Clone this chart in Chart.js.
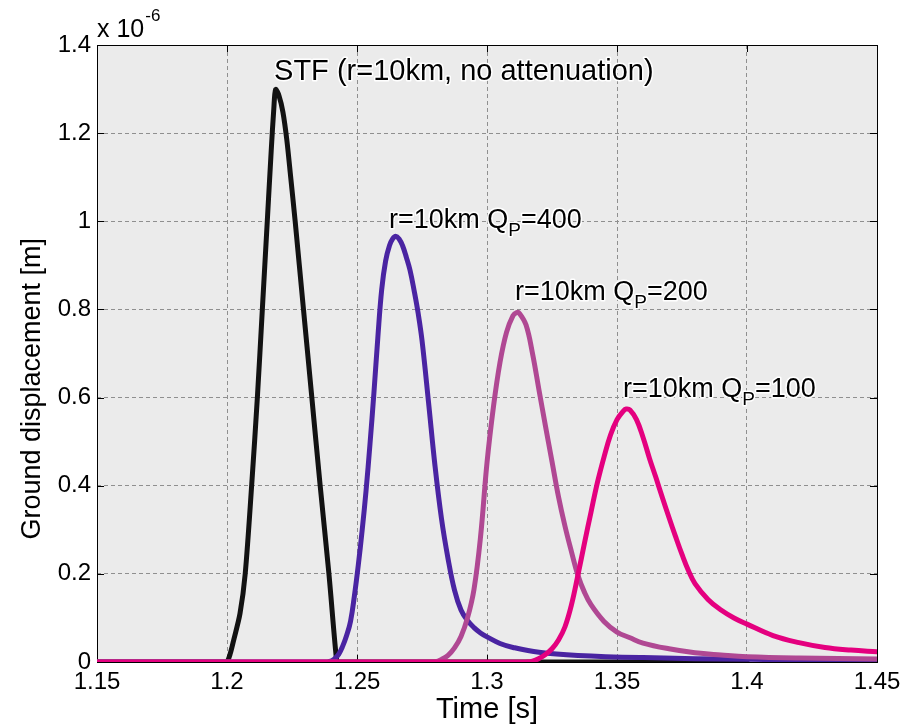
<!DOCTYPE html>
<html>
<head>
<meta charset="utf-8">
<script src="https://cdn.jsdelivr.net/npm/chart.js@4"></script>
<style>
html,body{margin:0;padding:0;background:#fff;}
canvas{display:block;}
</style>
</head>
<body>
<canvas id="chart" width="918" height="728"></canvas>
<script>
const FONT = "'Liberation Sans', Arial, Helvetica, sans-serif";

// axes
const X_TICKS = [1.15, 1.2, 1.25, 1.3, 1.35, 1.4, 1.45];
const X_TICK_LABELS = ['1.15', '1.2', '1.25', '1.3', '1.35', '1.4', '1.45'];
const Y_TICKS = [0, 0.2, 0.4, 0.6, 0.8, 1.0, 1.2, 1.4];
const Y_TICK_LABELS = ['0', '0.2', '0.4', '0.6', '0.8', '1', '1.2', '1.4'];

// source time function, no attenuation (x 1e-6 m)
const stfTime = [1.15, 1.199, 1.2, 1.2012, 1.2025, 1.205, 1.207, 1.2095, 1.2117, 1.2136, 1.2155, 1.217, 1.218, 1.2187,
  1.22, 1.2215, 1.223, 1.2245, 1.2262, 1.2294, 1.2326, 1.2358, 1.2392, 1.242, 1.2426, 1.2436, 1.40];
const stfDisp = [0, 0, 0, 0.018, 0.048, 0.11, 0.2, 0.402, 0.602, 0.801, 1.001, 1.16, 1.255, 1.299,
  1.285, 1.248, 1.185, 1.1, 1.001, 0.801, 0.602, 0.402, 0.2, 0.012, 0, 0, 0];

// Qp = 400
const q400Time = [1.15, 1.237, 1.238, 1.24, 1.2415, 1.243, 1.2445, 1.246, 1.2475, 1.249, 1.2505, 1.252, 1.2535,
  1.255, 1.2565, 1.258, 1.2595, 1.261, 1.2625, 1.2637, 1.2649, 1.2662, 1.2675, 1.269, 1.2704, 1.272,
  1.2735, 1.275, 1.2775, 1.28, 1.2825, 1.285, 1.2875, 1.29, 1.2925, 1.295, 1.2975, 1.3, 1.305,
  1.31, 1.32, 1.335, 1.36, 1.40, 1.45];
const q400Disp = [0, 0, 0, 0.002, 0.008, 0.018, 0.036, 0.06, 0.092, 0.15, 0.22, 0.3, 0.39,
  0.495, 0.61, 0.735, 0.845, 0.91, 0.945, 0.96, 0.966, 0.96, 0.945, 0.918, 0.889, 0.842,
  0.792, 0.73, 0.59, 0.445, 0.325, 0.235, 0.163, 0.118, 0.094, 0.078, 0.066, 0.057, 0.042,
  0.033, 0.022, 0.015, 0.01, 0.006, 0.004];

// Qp = 200
const q200Time = [1.15, 1.279, 1.28, 1.2825, 1.285, 1.2875, 1.29, 1.2925, 1.295, 1.2975, 1.3, 1.3025, 1.305,
  1.3075, 1.31, 1.3114, 1.3125, 1.315, 1.3175, 1.32, 1.3225, 1.325, 1.3275, 1.33, 1.3325, 1.335,
  1.3375, 1.34, 1.345, 1.35, 1.355, 1.36, 1.37, 1.38, 1.39, 1.40, 1.42, 1.45];
const q200Disp = [0, 0, 0, 0.006, 0.015, 0.032, 0.058, 0.1, 0.165, 0.283, 0.452, 0.58, 0.68,
  0.748, 0.786, 0.793, 0.791, 0.765, 0.7, 0.617, 0.535, 0.455, 0.375, 0.308, 0.25, 0.196,
  0.158, 0.13, 0.092, 0.068, 0.055, 0.043, 0.03, 0.021, 0.016, 0.012, 0.009, 0.007];

// Qp = 100
const q100Time = [1.15, 1.314, 1.315, 1.3175, 1.32, 1.3225, 1.325, 1.3275, 1.33, 1.3325, 1.335, 1.3375, 1.34,
  1.3425, 1.345, 1.3475, 1.35, 1.3525, 1.3535, 1.355, 1.3575, 1.36, 1.3625, 1.365, 1.3675, 1.37,
  1.3725, 1.375, 1.3775, 1.38, 1.385, 1.39, 1.395, 1.40, 1.41, 1.42, 1.43, 1.44, 1.45];
const q100Disp = [0, 0, 0, 0.002, 0.008, 0.017, 0.03, 0.05, 0.08, 0.13, 0.198, 0.27, 0.34,
  0.408, 0.465, 0.515, 0.55, 0.57, 0.574, 0.572, 0.55, 0.51, 0.462, 0.418, 0.372, 0.328,
  0.285, 0.244, 0.207, 0.178, 0.142, 0.118, 0.1, 0.086, 0.06, 0.044, 0.033, 0.027, 0.023];

const SERIES_LABELS = ['STF (r=10km, no attenuation)', 'r=10km QP=400', 'r=10km QP=200', 'r=10km QP=100'];

const pts = (ts, vs) => ts.map((t, i) => ({x: t, y: vs[i]}));

function line(label, data, color, order, tension) {
  return {
    label, data, order, tension,
    borderColor: color,
    borderWidth: 5,
    borderCapStyle: 'round',
    borderJoinStyle: 'round',
    pointRadius: 0,
    fill: false
  };
}

// text placed next to each pulse; parts: [text, subscript?]
const notes = [
  {t: 1.2181, v: 1.321, size: 29, parts: [['STF (r=10km, no attenuation)', false]]},
  {t: 1.2623, v: 0.985, size: 27, parts: [['r=10km Q', false], ['P', true], ['=400', false]]},
  {t: 1.3108, v: 0.821, size: 27, parts: [['r=10km Q', false], ['P', true], ['=200', false]]},
  {t: 1.3523, v: 0.601, size: 27, parts: [['r=10km Q', false], ['P', true], ['=100', false]]}
];

function haloText(ctx, s, x, y) {
  ctx.strokeText(s, x, y);
  ctx.fillText(s, x, y);
}

const frame = {
  id: 'frame',
  beforeDraw(chart) {
    const {ctx, chartArea: a} = chart;
    ctx.save();
    ctx.fillStyle = '#fff';
    ctx.fillRect(0, 0, chart.width, chart.height);
    ctx.fillStyle = '#ebebeb';
    ctx.fillRect(a.left, a.top, a.right - a.left, a.bottom - a.top);
    ctx.restore();
  },
  beforeDatasetsDraw(chart) {
    const {ctx, chartArea: a, scales: {x, y}} = chart;
    ctx.save();
    ctx.strokeStyle = '#000';
    ctx.lineWidth = 1;
    ctx.strokeRect(a.left + 0.5, a.top + 0.5, a.right - a.left, a.bottom - a.top);
    ctx.beginPath();
    x.ticks.forEach(t => {
      const px = Math.round(x.getPixelForValue(t.value)) + 0.5;
      ctx.moveTo(px, a.top); ctx.lineTo(px, a.top + 7);
      ctx.moveTo(px, a.bottom); ctx.lineTo(px, a.bottom - 7);
    });
    y.ticks.forEach(t => {
      const py = Math.round(y.getPixelForValue(t.value)) + 0.5;
      ctx.moveTo(a.left, py); ctx.lineTo(a.left + 7, py);
      ctx.moveTo(a.right, py); ctx.lineTo(a.right - 7, py);
    });
    ctx.stroke();
    ctx.restore();
  },
  afterDatasetsDraw(chart) {
    const {ctx, chartArea: a, scales: {x, y}} = chart;
    ctx.save();
    ctx.textBaseline = 'alphabetic';
    ctx.textAlign = 'left';
    ctx.fillStyle = '#000';
    ctx.strokeStyle = '#fff';
    ctx.lineWidth = 3;
    ctx.lineJoin = 'round';
    notes.forEach(n => {
      let px = x.getPixelForValue(n.t);
      const py = y.getPixelForValue(n.v);
      n.parts.forEach(([s, sub]) => {
        ctx.font = (sub ? '19px ' : n.size + 'px ') + FONT;
        haloText(ctx, s, px, sub ? py + 8 : py);
        px += ctx.measureText(s).width;
      });
    });

    // exponent of the y axis
    ctx.font = '25px ' + FONT;
    ctx.fillText('x 10', a.left, a.top - 8);
    const w = ctx.measureText('x 10').width;
    ctx.font = '17px ' + FONT;
    ctx.fillText('-6', a.left + w + 1, a.top - 24);

    // y axis title, set a little below the axis middle
    ctx.translate(33, y.getPixelForValue(0.62));
    ctx.rotate(-Math.PI / 2);
    ctx.textAlign = 'center';
    ctx.textBaseline = 'middle';
    ctx.font = '27px ' + FONT;
    ctx.fillText('Ground displacement [m]', 0, 0);
    ctx.restore();
  }
};

new Chart(document.getElementById('chart'), {
  type: 'line',
  data: {
    datasets: [
      line(SERIES_LABELS[0], pts(stfTime, stfDisp), '#121212', 4, 0.3),
      line(SERIES_LABELS[1], pts(q400Time, q400Disp), '#4a24a2', 3, 0.4),
      line(SERIES_LABELS[2], pts(q200Time, q200Disp), '#b04893', 2, 0.4),
      line(SERIES_LABELS[3], pts(q100Time, q100Disp), '#e4007f', 1, 0.4)
    ]
  },
  options: {
    responsive: false,
    animation: false,
    devicePixelRatio: 1,
    layout: {padding: {top: 45, right: 41, left: 0, bottom: 0}},
    plugins: {legend: {display: false}, tooltip: {enabled: false}},
    scales: {
      x: {
        type: 'linear',
        min: 1.15, max: 1.45,
        afterBuildTicks: s => { s.ticks = X_TICKS.map(v => ({value: v})); },
        afterFit: s => { s.height = 66; },
        grid: {color: '#8f8f8f', lineWidth: 1, drawTicks: false},
        border: {display: false, dash: [4, 3]},
        ticks: {
          padding: 6, color: '#000', maxRotation: 0, autoSkip: false,
          font: {family: FONT, size: 24},
          callback: (v, i) => X_TICK_LABELS[i]
        },
        title: {display: true, text: 'Time [s]', color: '#000', font: {family: FONT, size: 29}, padding: {top: 0, bottom: 1}}
      },
      y: {
        type: 'linear',
        min: 0, max: 1.4,
        afterBuildTicks: s => { s.ticks = Y_TICKS.map(v => ({value: v})); },
        afterFit: s => { s.width = 97; },
        grid: {color: '#8f8f8f', lineWidth: 1, drawTicks: false},
        border: {display: false, dash: [4, 3]},
        ticks: {
          padding: 6, color: '#000',
          font: {family: FONT, size: 24},
          callback: (v, i) => Y_TICK_LABELS[i]
        }
      }
    }
  },
  plugins: [frame]
});
</script>
</body>
</html>
